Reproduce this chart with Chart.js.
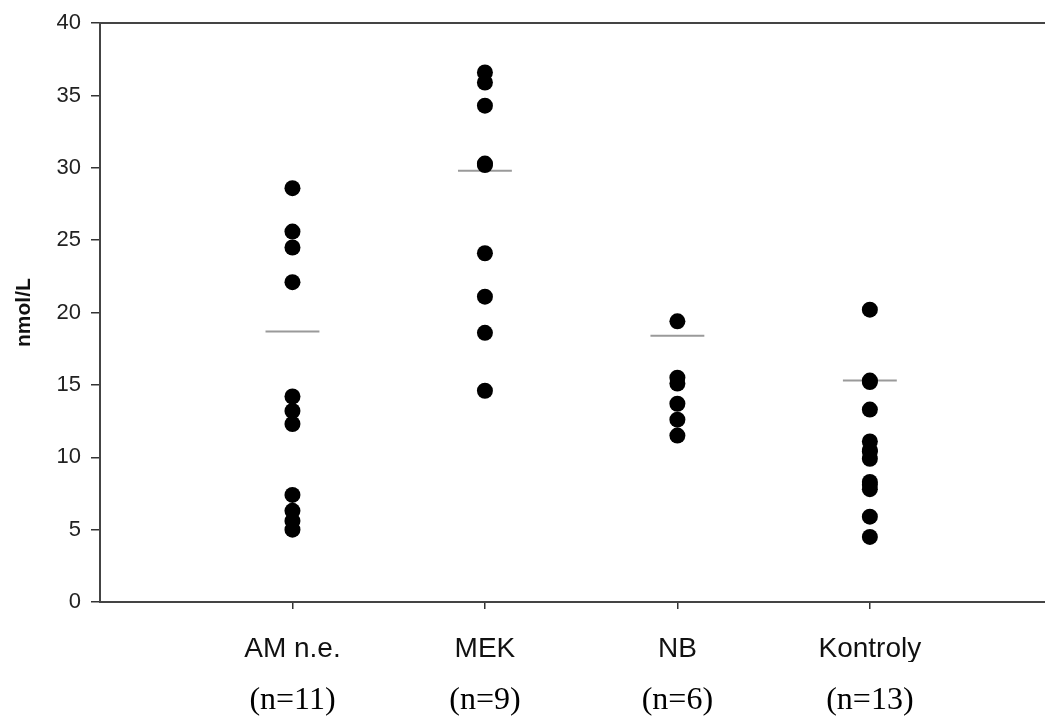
<!DOCTYPE html>
<html>
<head>
<meta charset="utf-8">
<script src="https://cdn.jsdelivr.net/npm/chart.js@4.4.1/dist/chart.umd.min.js"></script>
<style>
  html, body { margin: 0; padding: 0; background: #fff; overflow: hidden; }
  #wrap { width: 1045px; height: 716px; }
</style>
</head>
<body>
<div id="wrap"><canvas id="dotChart"></canvas></div>
<script>
// groups and their values (nmol/L)
const groups = ['AM n.e.', 'MEK', 'NB', 'Kontroly'];
const groupN = ['(n=11)', '(n=9)', '(n=6)', '(n=13)'];
const amValues = [28.6, 25.6, 24.5, 22.1, 14.2, 13.2, 12.3, 7.4, 6.3, 5.6, 5.0];
const mekValues = [36.6, 35.9, 34.3, 30.3, 30.2, 24.1, 21.1, 18.6, 14.6];
const nbValues = [19.4, 15.5, 15.1, 13.7, 12.6, 11.5];
const kontrolyValues = [20.2, 15.3, 15.2, 13.3, 11.1, 10.5, 10.4, 9.9, 8.3, 8.1, 7.8, 5.9, 4.5];
const lineValues = [18.7, 29.8, 18.4, 15.3];
const yTicks = [0, 5, 10, 15, 20, 25, 30, 35, 40];

const allValues = [amValues, mekValues, nbValues, kontrolyValues];
const halfWidth = 0.14;
const xMax = 4.91;

const points = [];
allValues.forEach((vals, i) => {
    vals.forEach(v => points.push({ x: i + 1, y: v }));
});

const datasets = [{
    type: 'scatter',
    label: 'values',
    data: points,
    backgroundColor: '#000',
    borderColor: '#000',
    pointRadius: 8,
    pointHoverRadius: 8,
    borderWidth: 0
}];

lineValues.forEach((m, i) => {
    datasets.push({
        type: 'line',
        label: 'line ' + groups[i],
        data: [{ x: i + 1 - halfWidth, y: m }, { x: i + 1 + halfWidth, y: m }],
        borderColor: '#9a9a9a',
        borderWidth: 2,
        pointRadius: 0,
        fill: false
    });
});

const ctx = document.getElementById('dotChart').getContext('2d');

new Chart(ctx, {
    data: { datasets: datasets },
    options: {
        responsive: true,
        maintainAspectRatio: false,
        animation: false,
        events: [],
        layout: { autoPadding: false, padding: { top: 22, right: 0, left: 0, bottom: 0 } },
        plugins: {
            legend: { display: false },
            tooltip: { enabled: false }
        },
        scales: {
            x: {
                type: 'linear',
                position: 'bottom',
                min: 0,
                max: xMax,
                afterBuildTicks: (axis) => { axis.ticks = groups.map((g, i) => ({ value: i + 1 })); },
                afterFit: (axis) => { axis.height = 60; },
                grid: { drawOnChartArea: false, drawTicks: true, tickLength: 7, color: '#333', lineWidth: 1.5 },
                border: { display: true, color: '#444', width: 2 },
                ticks: {
                    autoSkip: false,
                    maxRotation: 0,
                    padding: 23,
                    color: '#111',
                    font: { family: 'Liberation Sans, Arial', size: 28 },
                    callback: (v) => groups[Math.round(v) - 1] || ''
                }
            },
            xn: {
                type: 'linear',
                position: 'bottom',
                min: 0,
                max: xMax,
                afterBuildTicks: (axis) => { axis.ticks = groups.map((g, i) => ({ value: i + 1 })); },
                afterFit: (axis) => { axis.height = 54; },
                grid: { display: false, drawTicks: false },
                border: { display: false },
                ticks: {
                    autoSkip: false,
                    maxRotation: 0,
                    padding: 19,
                    color: '#000',
                    font: { family: 'Liberation Serif, Times New Roman', size: 32 },
                    callback: (v) => groupN[Math.round(v) - 1] || ''
                }
            },
            xtop: {
                type: 'linear',
                position: 'top',
                min: 0,
                max: xMax,
                afterFit: (axis) => { axis.height = 0; },
                grid: { display: false, drawTicks: false },
                border: { display: true, color: '#444', width: 2 },
                ticks: { display: false }
            },
            y: {
                type: 'linear',
                min: 0,
                max: 40,
                afterBuildTicks: (axis) => { axis.ticks = yTicks.map(v => ({ value: v })); },
                afterFit: (axis) => { axis.width = 100; },
                grid: { drawOnChartArea: false, drawTicks: true, tickLength: 9, color: '#333', lineWidth: 1.5 },
                border: { display: true, color: '#444', width: 2 },
                ticks: {
                    padding: 10,
                    color: '#222',
                    font: { family: 'Liberation Sans, Arial', size: 22 }
                },
                title: {
                    display: true,
                    text: 'nmol/L',
                    color: '#111',
                    padding: { top: 12, bottom: 0 },
                    font: { family: 'Liberation Sans, Arial', size: 21, weight: 'bold' }
                }
            }
        }
    }
});
</script>
</body>
</html>
